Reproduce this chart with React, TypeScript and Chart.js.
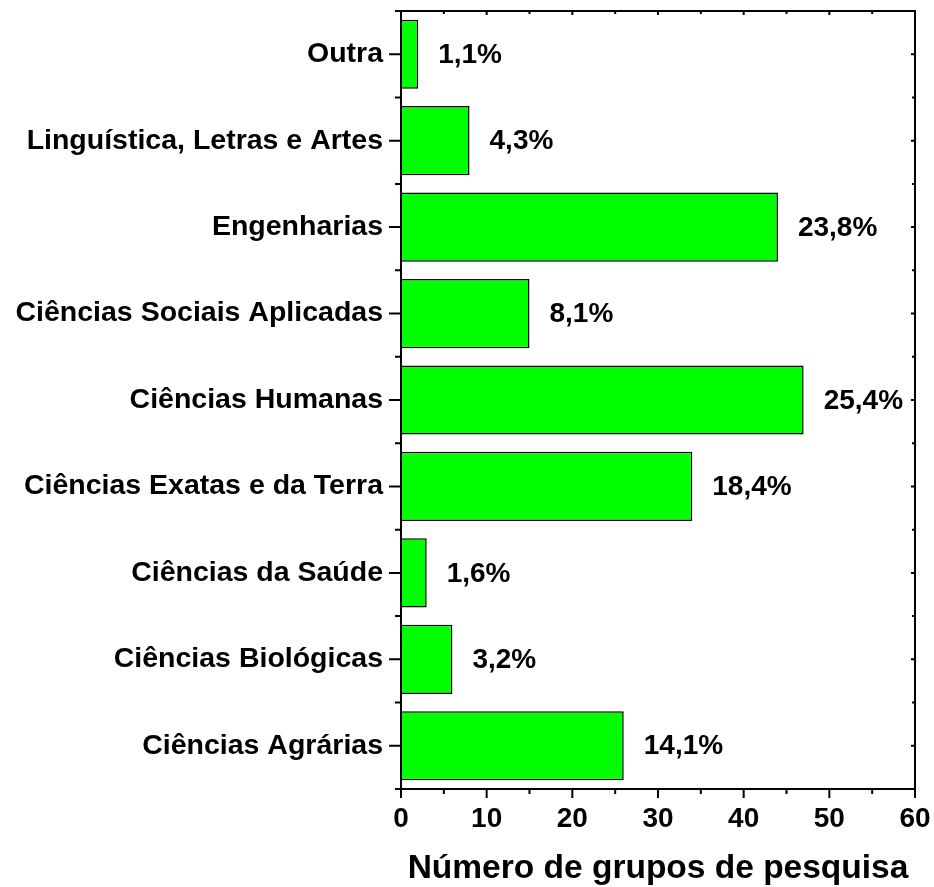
import { useEffect, useRef } from 'react';
import { Chart, registerables } from 'chart.js';

Chart.register(...registerables);

const categories = [
  'Outra',
  'Linguística, Letras e Artes',
  'Engenharias',
  'Ciências Sociais Aplicadas',
  'Ciências Humanas',
  'Ciências Exatas e da Terra',
  'Ciências da Saúde',
  'Ciências Biológicas',
  'Ciências Agrárias',
];
const groupCounts = [2, 8, 44, 15, 47, 34, 3, 6, 26];
const percentLabels = ['1,1%', '4,3%', '23,8%', '8,1%', '25,4%', '18,4%', '1,6%', '3,2%', '14,1%'];
const xMin = 0;
const xMax = 60;
const xMajorStep = 10;
const xMinorTicks = [5, 15, 25, 35, 45, 55];
const xAxisTitle = 'Número de grupos de pesquisa';

const FONT = '"Liberation Sans", Arial, sans-serif';

const framePlugin = {
  id: 'framePlugin',
  afterDatasetsDraw(chart: any) {
    const { ctx, chartArea: a, scales } = chart;
    const x = scales.x;
    const y = scales.y;
    ctx.save();
    ctx.strokeStyle = '#000';
    ctx.lineWidth = 2;
    ctx.lineCap = 'butt';
    ctx.beginPath();
    ctx.rect(a.left, a.top, a.right - a.left, a.bottom - a.top);
    ctx.stroke();
    ctx.beginPath();
    for (let v = xMin; v <= xMax; v += xMajorStep) {
      const px = x.getPixelForValue(v);
      ctx.moveTo(px, a.bottom);
      ctx.lineTo(px, a.bottom + 9);
      ctx.moveTo(px, a.top);
      ctx.lineTo(px, a.top + 4);
    }
    xMinorTicks.forEach((v) => {
      const px = x.getPixelForValue(v);
      ctx.moveTo(px, a.bottom);
      ctx.lineTo(px, a.bottom + 5);
      ctx.moveTo(px, a.top);
      ctx.lineTo(px, a.top + 3);
    });
    const n = categories.length;
    for (let i = 0; i < n; i++) {
      const py = y.getPixelForValue(i);
      ctx.moveTo(a.left, py);
      ctx.lineTo(a.left - 12, py);
      ctx.moveTo(a.right, py);
      ctx.lineTo(a.right - 4, py);
    }
    for (let i = 0; i <= n; i++) {
      const py = y.getPixelForValue(i - 0.5);
      ctx.moveTo(a.left, py);
      ctx.lineTo(a.left - 6, py);
      ctx.moveTo(a.right, py);
      ctx.lineTo(a.right - 3, py);
    }
    ctx.stroke();
    ctx.restore();
  },
};

const labelPlugin = {
  id: 'labelPlugin',
  afterDatasetsDraw(chart: any) {
    const { ctx } = chart;
    const meta = chart.getDatasetMeta(0);
    ctx.save();
    ctx.fillStyle = '#000';
    ctx.font = `bold 28px ${FONT}`;
    ctx.textAlign = 'left';
    ctx.textBaseline = 'middle';
    meta.data.forEach((bar: any, i: number) => {
      ctx.fillText(percentLabels[i], bar.x + 20, bar.y + 1);
    });
    ctx.restore();
  },
};

export default function App() {
  const ref = useRef<HTMLCanvasElement>(null);
  useEffect(() => {
    if (!ref.current) return;
    const chart = new Chart(ref.current, {
      type: 'bar',
      data: {
        labels: categories,
        datasets: [
          {
            data: groupCounts,
            backgroundColor: '#00FF00',
            borderColor: '#000',
            borderWidth: 1.5,
            barPercentage: 0.8,
            categoryPercentage: 1,
          },
        ],
      },
      options: {
        indexAxis: 'y',
        responsive: false,
        animation: false,
        devicePixelRatio: 1,
        layout: { padding: { top: 11, right: 19, left: 0, bottom: 0 } },
        plugins: {
          legend: { display: false },
          tooltip: { enabled: false },
        },
        scales: {
          x: {
            type: 'linear',
            min: xMin,
            max: xMax,
            grid: { display: false, drawTicks: true, tickLength: 9 },
            border: { display: false },
            ticks: {
              stepSize: xMajorStep,
              autoSkip: false,
              color: '#000',
              padding: 4,
              font: { family: FONT, size: 28, weight: 'bold' },
            },
            title: {
              display: true,
              text: xAxisTitle,
              color: '#000',
              font: { family: FONT, size: 33.5, weight: 'bold', lineHeight: 1.1 },
              padding: { top: 0, bottom: 0 },
            },
            afterFit: (s: any) => {
              s.height = 98;
              s.paddingLeft = 0;
              s.paddingRight = 0;
            },
          },
          y: {
            type: 'category',
            grid: { display: false, drawTicks: true, tickLength: 12, offset: true },
            border: { display: false },
            ticks: {
              color: '#000',
              padding: 6,
              autoSkip: false,
              font: { family: FONT, size: 28.5, weight: 'bold' },
            },
            afterFit: (s: any) => {
              s.width = 401;
              s.paddingTop = 0;
              s.paddingBottom = 0;
            },
          },
        },
      },
      plugins: [framePlugin, labelPlugin],
    } as any);
    return () => chart.destroy();
  }, []);
  return (
    <div style={{ position: 'absolute', left: 0, top: 0, width: 934, height: 887 }}>
      <canvas ref={ref} width={934} height={887} />
    </div>
  );
}
